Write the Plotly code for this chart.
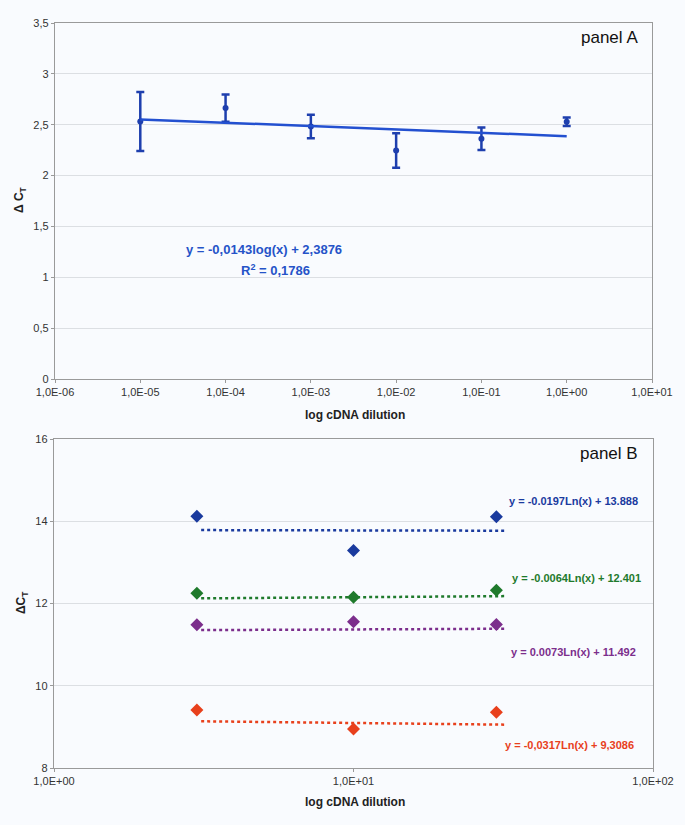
import numpy as np
import plotly.graph_objects as go

# ---------------- data ----------------
# Panel A
a_x = [1e-5, 1e-4, 1e-3, 1e-2, 1e-1, 1e0]
a_y = [2.532, 2.664, 2.483, 2.247, 2.362, 2.529]
a_err = [0.290, 0.134, 0.115, 0.170, 0.111, 0.041]
a_trend_slope = -0.0143   # (natural log used by the fit)
a_trend_icpt = 2.3876
a_trend_x = [1e-5, 1e0]
a_xtickvals = [1e-6, 1e-5, 1e-4, 1e-3, 1e-2, 1e-1, 1e0, 1e1]
a_xticktext = ["1,0E-06", "1,0E-05", "1,0E-04", "1,0E-03", "1,0E-02", "1,0E-01", "1,0E+00", "1,0E+01"]
a_ytickvals = [0, 0.5, 1, 1.5, 2, 2.5, 3, 3.5]
a_yticktext = ["0", "0,5", "1", "1,5", "2", "2,5", "3", "3,5"]

# Panel B
b_x = [3, 10, 30]
b_blue = [14.124, 13.287, 14.107]
b_green = [12.247, 12.150, 12.320]
b_purple = [11.483, 11.556, 11.491]
b_red = [9.412, 8.949, 9.355]
b_trend_x = [3.1, 32]
b_trend_blue = [13.785, 13.770]
b_trend_green = [12.125, 12.180]
b_trend_purple = [11.353, 11.386]
b_trend_red = [9.136, 9.054]
b_xtickvals = [1, 10, 100]
b_xticktext = ["1,0E+00", "1,0E+01", "1,0E+02"]
b_ytickvals = [8, 10, 12, 14, 16]

eq_a = "y = -0,0143log(x) + 2,3876"
r2_a = "R<sup>2</sup> = 0,1786"
eq_b = ["y = -0.0197Ln(x) + 13.888", "y = -0.0064Ln(x) + 12.401",
        "y = 0.0073Ln(x) + 11.492", "y = -0,0317Ln(x) + 9,3086"]

# ---------------- styles ----------------
FONT = "Liberation Sans Narrow, Arial Narrow, Liberation Sans, Arial, sans-serif"
BG = "#f9fbfe"
GRID = "#dcdfe3"
AXIS = "#9a9a9a"
BLUE_A = "#1e3fae"
TREND_A = "#2350d0"
C_BLUE = "#1a3a9e"
C_GREEN = "#1f7a2c"
C_PURPLE = "#7c2e8c"
C_RED = "#e8401c"

fig = go.Figure()

# Panel A
fig.add_trace(go.Scatter(
    x=a_x, y=a_y, mode="markers",
    marker=dict(color=BLUE_A, size=6),
    error_y=dict(type="data", array=a_err, color=BLUE_A, thickness=2.5, width=4),
    xaxis="x", yaxis="y", showlegend=False))
tx = np.array(a_trend_x)
fig.add_trace(go.Scatter(
    x=tx, y=a_trend_icpt + a_trend_slope * np.log(tx), mode="lines",
    line=dict(color=TREND_A, width=2.5),
    xaxis="x", yaxis="y", showlegend=False))

# Panel B
for ys, tys, col in [(b_blue, b_trend_blue, C_BLUE), (b_green, b_trend_green, C_GREEN),
                     (b_purple, b_trend_purple, C_PURPLE), (b_red, b_trend_red, C_RED)]:
    fig.add_trace(go.Scatter(
        x=b_trend_x, y=tys, mode="lines",
        line=dict(color=col, width=2.5, dash="dot"),
        xaxis="x2", yaxis="y2", showlegend=False))
    fig.add_trace(go.Scatter(
        x=b_x, y=ys, mode="markers",
        marker=dict(color=col, size=10, symbol="diamond"),
        xaxis="x2", yaxis="y2", showlegend=False))

W, H = 685, 825
def px_x(p):
    return p / W
def px_y(p):
    return 1 - p / H

axis_common = dict(
    showline=True, linecolor=AXIS, linewidth=1.2, mirror=True,
    ticks="outside", ticklen=3, tickcolor=AXIS,
    tickfont=dict(family=FONT, size=11, color="#333333"),
    zeroline=False, automargin=False,
)

fig.update_layout(
    template="none",
    width=W, height=H, autosize=False,
    margin=dict(l=0, r=0, t=0, b=0, pad=0),
    paper_bgcolor=BG, plot_bgcolor=BG,
    font=dict(family=FONT),
    xaxis=dict(type="log", domain=[px_x(55), px_x(652)], range=[-6, 1],
               tickvals=a_xtickvals, ticktext=a_xticktext, showgrid=False,
               anchor="y", **axis_common),
    yaxis=dict(domain=[px_y(379), px_y(23)], range=[0, 3.5],
               tickvals=a_ytickvals, ticktext=a_yticktext,
               showgrid=True, gridcolor=GRID, gridwidth=1,
               anchor="x", **axis_common),
    xaxis2=dict(type="log", domain=[px_x(54), px_x(653)], range=[0, 2],
                tickvals=b_xtickvals, ticktext=b_xticktext, showgrid=False,
                anchor="y2", **axis_common),
    yaxis2=dict(domain=[px_y(768), px_y(439)], range=[8, 16],
                tickvals=b_ytickvals, showgrid=True, gridcolor=GRID, gridwidth=1,
                anchor="x2", **axis_common),
)

ann = []
def add_text(text, x, y, size, color, bold=False, angle=0, xanchor="center"):
    t = f"<b>{text}</b>" if bold else text
    ann.append(dict(text=t, x=px_x(x), y=px_y(y), xref="paper", yref="paper",
                    showarrow=False, xanchor=xanchor, yanchor="middle",
                    textangle=angle,
                    font=dict(family=FONT, size=size, color=color)))

# panel labels
add_text("panel A", 640, 38, 17, "#111111", xanchor="right")
add_text("panel B", 640, 453, 17, "#111111", xanchor="right")
# axis titles
add_text("log cDNA dilution", 355, 415, 12, "#222222", bold=True)
add_text("log cDNA dilution", 355, 802, 12, "#222222", bold=True)
add_text("Δ C<sub>T</sub>", 20, 200, 12, "#222222", bold=True, angle=-90)
add_text("ΔC<sub>T</sub>", 22, 603, 12, "#222222", bold=True, angle=-90)
# equations
add_text(eq_a, 264, 250, 13, "#2553c8", bold=True)
add_text(r2_a, 275, 270, 13, "#2553c8", bold=True)
add_text(eq_b[0], 573, 501, 11, C_BLUE, bold=True)
add_text(eq_b[1], 576, 578, 11, C_GREEN, bold=True)
add_text(eq_b[2], 573, 652, 11, C_PURPLE, bold=True)
add_text(eq_b[3], 569, 745, 11, C_RED, bold=True)

fig.update_layout(annotations=ann)
fig.write_html("out.html",
               config={"displayModeBar": False, "staticPlot": True},
               post_script="document.body.style.margin='0';document.body.style.background='%s';" % BG)
